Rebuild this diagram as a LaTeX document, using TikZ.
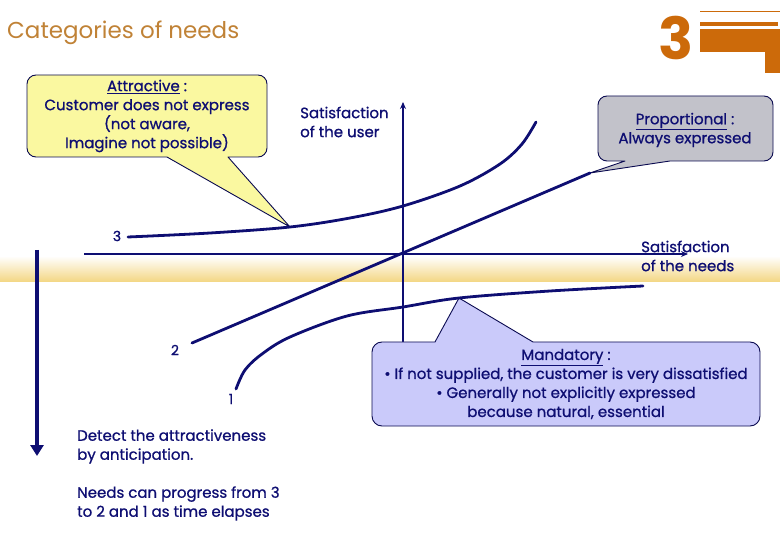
\documentclass[tikz,border=0pt]{standalone}
\usepackage{fontspec}
\setmainfont{Poppins}
\newfontfamily\semibf{Poppins}[FakeBold=0.9]
\usetikzlibrary{arrows.meta}
\definecolor{navy}{HTML}{0E0E72}
\definecolor{titleorange}{HTML}{C08236}
\definecolor{deeporange}{HTML}{CC6A0A}
\definecolor{bandyellow}{HTML}{F3D682}
\definecolor{attrfill}{HTML}{FAF8A0}
\definecolor{propfill}{HTML}{C2C2CA}
\definecolor{mandfill}{HTML}{CACAFA}
\tikzset{
  txt/.style={text=navy, font=\semibf\fontsize{15}{19}\selectfont, inner sep=0pt},
  callout/.style={draw=navy!70!black, line width=0.9pt, line join=round},
  curve/.style={draw=navy, line width=2.8pt, line cap=round},
  axis/.style={draw=navy, line width=1.8pt},
  numlbl/.style={text=navy, font=\semibf\fontsize{14}{16}\selectfont, inner sep=0pt},
}
\begin{document}
\begin{tikzpicture}[x=1pt, y=-1pt]
\useasboundingbox (0,0) rectangle (780,540);
% band
\shade[top color=white, bottom color=bandyellow] (0,256) rectangle (780,282);
% title
\node[anchor=west, text=titleorange, font=\fontsize{23}{26}\selectfont, inner sep=0pt] (title) at (7,33) {Categories of needs};
\node[text=deeporange, font=\fontsize{58}{60}\selectfont\bfseries, inner sep=0pt] (three) at (676,38) {3};
% decoration bars
\fill[deeporange] (700,11.5) rectangle (780,12.5);
\fill[deeporange] (700,22) rectangle (778,26);
\fill[deeporange] (700,29) rectangle (780,52);
\fill[deeporange] (765,29) rectangle (780,73);
% callouts
\path[callout, fill=attrfill] (27,116) [rounded corners=9pt] -- (27,75) -- (267,75) -- (267,157) [sharp corners] -- (228,157) -- (290,227) -- (167,157) [rounded corners=9pt] -- (27,157) -- cycle;
\path[callout, fill=propfill] (598,130) [rounded corners=9pt] -- (598,96) -- (773,96) -- (773,161) [sharp corners] -- (670,161) -- (590,173) -- (625,161) [rounded corners=9pt] -- (598,161) -- cycle;
% axes
\coordinate (O) at (403,254);
\coordinate (xs) at (84,254);
\coordinate (xe) at (688,254);
\coordinate (ys) at (403,342);
\coordinate (ye) at (403,102);
\draw[axis, -{Stealth[length=7pt,width=6pt]}] (xs) -- (xe);
\draw[axis, -{Stealth[length=7pt,width=6pt]}] (ys) -- (ye);
% mandatory callout (over axis)
\path[callout, fill=mandfill] (372,384) [rounded corners=10pt] -- (372,342) [sharp corners] -- (435,342) -- (459,298) -- (533,342) [rounded corners=10pt] -- (760,342) -- (760,426) -- (372,426) -- cycle;
% curves
\draw[curve] plot[smooth, tension=0.55] coordinates {(128,237) (210,233) (290,227) (350,218) (403,206) (460,186) (500,164) (522,144) (536,122)};
\coordinate (p2s) at (192,343);
\coordinate (p2e) at (590,173);
\draw[curve] (p2s) -- (p2e);
\draw[curve] plot[smooth, tension=0.55] coordinates {(236,389) (245,370) (262,354) (290,337) (347,316) (403,307) (459,298) (550,291) (643,286)};
% down arrow
\coordinate (ds) at (37,250);
\coordinate (de) at (37,456);
\draw[navy, line width=4.5pt, -{Triangle[length=11pt,width=13pt]}] (ds) -- (de);
% labels
\node[numlbl] (l3) at (117,236) {3};
\node[numlbl] (l2) at (175,350) {2};
\node[numlbl] (l1) at (231,399) {1};
\node[txt, align=center] (attr) at (147,116) {\underline{Attractive} :\\Customer does not express\\(not aware,\\Imagine not possible)};
\node[txt, align=center] (prop) at (685,130) {\underline{Proportional} :\\Always expressed};
\node[txt, align=center] (mand) at (566,384) {\underline{Mandatory} :\\• If not supplied, the customer is very dissatisfied\\• Generally not explicitly expressed\\because natural, essential};
\node[txt, align=left, anchor=west] (suser) at (300,122) {Satisfaction\\of the user};
\node[txt, align=left, anchor=west] (sneeds) at (641,256) {Satisfaction\\of the needs};
\node[txt, align=left, anchor=west] (detect) at (77,475) {Detect the attractiveness\\by anticipation.\\[19pt]Needs can progress from 3\\to 2 and 1 as time elapses};
\end{tikzpicture}
\end{document}
